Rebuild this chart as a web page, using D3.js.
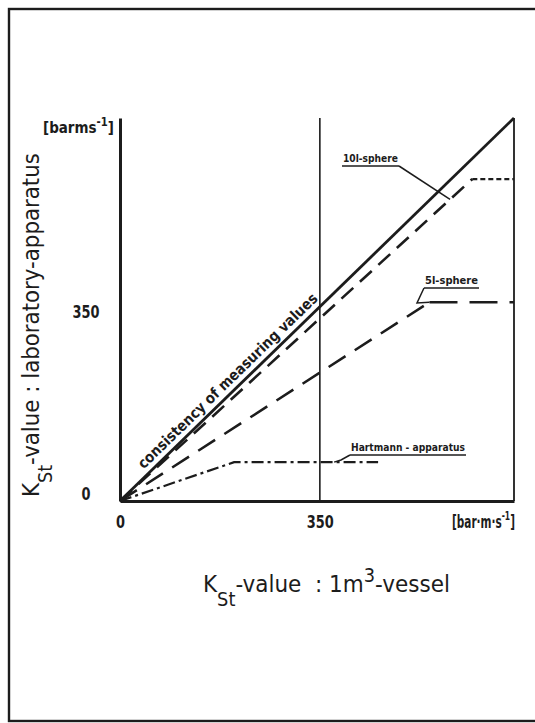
<!DOCTYPE html>
<html>
<head>
<meta charset="utf-8">
<script src="https://cdn.jsdelivr.net/npm/d3@7"></script>
<style>
  html, body { margin: 0; padding: 0; background: #fff; }
  svg { display: block; }
  text {
    font-family: "DejaVu Sans Condensed", "Liberation Sans Narrow", "DejaVu Sans", sans-serif;
    font-stretch: condensed;
    fill: #1c1c1c;
  }
</style>
</head>
<body>
<svg id="chart" width="535" height="723"></svg>
<script>
// K_St values in bar·m·s^-1: 1 m3 vessel (x) against laboratory apparatus (y)
const axisMax = 690;
const tickValues = [0, 350];
const tickLabels = ["0", "350"];

const consistency = [[0, 0], [690, 690]];
const sphere10Rise = [[0, 0], [617, 580]];
const sphere10Plateau = [[617, 580], [690, 580]];
const sphere5Rise = [[0, 0], [542, 358]];
const sphere5Plateau = [[542, 358], [690, 358]];
const hartmann = [[0, 0], [200, 70], [452, 70]];

const ink = "#1c1c1c";
const svg = d3.select("#chart");

// page frame
svg.append("rect")
  .attr("x", 9).attr("y", 9).attr("width", 540).attr("height", 712)
  .attr("fill", "none").attr("stroke", ink).attr("stroke-width", 2.4);

const x = d3.scaleLinear().domain([0, axisMax]).range([120, 514]);
const y = d3.scaleLinear().domain([0, axisMax]).range([501, 118]);

// axes
const xAxis = svg.append("g")
  .attr("transform", `translate(0,${y(0)})`)
  .call(d3.axisBottom(x).tickValues(tickValues).tickFormat((d, i) => tickLabels[i]).tickSize(0).tickSizeOuter(0));
xAxis.select(".domain").attr("stroke", ink).attr("stroke-width", 3);
xAxis.selectAll(".tick text")
  .attr("y", 27).attr("dy", null)
  .attr("font-size", 17).attr("font-weight", "bold")
  .attr("font-family", null).attr("fill", ink)
  .attr("textLength", d => d === 0 ? 9 : 27).attr("lengthAdjust", "spacingAndGlyphs");

const yAxis = svg.append("g")
  .attr("transform", `translate(${x(0)},0)`)
  .call(d3.axisLeft(y).tickValues(tickValues).tickFormat((d, i) => tickLabels[i]).tickSize(0).tickSizeOuter(0));
yAxis.select(".domain").attr("stroke", ink).attr("stroke-width", 3);
yAxis.selectAll(".tick text")
  .attr("x", -34).attr("text-anchor", "middle")
  .attr("dy", d => d === 0 ? "-0.1em" : "0.62em")
  .attr("font-size", 17).attr("font-weight", "bold")
  .attr("font-family", null).attr("fill", ink)
  .attr("textLength", d => d === 0 ? 9 : 27).attr("lengthAdjust", "spacingAndGlyphs");

// right boundary and 350 reference line
svg.append("line")
  .attr("x1", x(axisMax)).attr("x2", x(axisMax)).attr("y1", y(0)).attr("y2", y(axisMax))
  .attr("stroke", ink).attr("stroke-width", 1.8);
svg.append("line")
  .attr("x1", x(350)).attr("x2", x(350)).attr("y1", y(0)).attr("y2", y(axisMax))
  .attr("stroke", ink).attr("stroke-width", 1.6);

const line = d3.line().x(d => x(d[0])).y(d => y(d[1]));
function draw(data, width, dash) {
  svg.append("path")
    .attr("d", line(data))
    .attr("fill", "none")
    .attr("stroke", ink)
    .attr("stroke-width", width)
    .attr("stroke-dasharray", dash)
    .attr("stroke-linejoin", "round");
}

draw(consistency, 2.8, null);
draw(sphere10Rise, 2.6, "16,9");
draw(sphere10Plateau, 2.2, "5,3");
draw(sphere5Rise, 2.6, "20,11");
draw(sphere5Plateau, 2.6, "28,12");
draw(hartmann, 2.2, "12,4,3,4");

// label along the consistency line
const angle = Math.atan2(y(axisMax) - y(0), x(axisMax) - x(0)) * 180 / Math.PI;
svg.append("text")
  .attr("transform", `translate(${x(202)},${y(202)}) rotate(${angle})`)
  .attr("dy", -6)
  .attr("text-anchor", "middle")
  .attr("font-size", 15)
  .attr("font-weight", "bold")
  .attr("textLength", 244)
  .attr("lengthAdjust", "spacingAndGlyphs")
  .text("consistency of measuring values");

// series labels with underline and leader
function tag(label, tx, ty, len, size, leader) {
  svg.append("text")
    .attr("x", tx).attr("y", ty)
    .attr("font-size", size).attr("font-weight", "bold")
    .attr("textLength", len).attr("lengthAdjust", "spacingAndGlyphs")
    .text(label);
  svg.append("line")
    .attr("x1", tx - 1).attr("x2", tx + len + 1)
    .attr("y1", ty + 4).attr("y2", ty + 4)
    .attr("stroke", ink).attr("stroke-width", 1.6);
  svg.append("path")
    .attr("d", d3.line()(leader))
    .attr("fill", "none").attr("stroke", ink).attr("stroke-width", 1.5);
}

const p10 = [x(578), y(578 * 580 / 617)];
tag("10l-sphere", 343, 162, 55, 11, [[399, 166], p10]);
tag("5l-sphere", 425, 284, 53, 11, [[424, 288], [417, 303], [x(542), y(358)]]);
tag("Hartmann - apparatus", 351, 451, 114, 10, [[350, 455], [341, 460], [x(375), y(70)]]);

// rich text (sub/superscripts) squeezed horizontally to a target width
function richText(parent, parts, opts) {
  const g = parent.append("g").attr("transform", opts.transform);
  const t = g.append("text")
    .attr("font-size", opts.size)
    .attr("font-weight", opts.weight || "normal");
  let shift = 0;
  parts.forEach(p => {
    const off = p.sub ? opts.subDrop : p.sup ? -opts.supRise : 0;
    const ts = t.append("tspan").attr("dy", off - shift).text(p.s);
    if (p.sub || p.sup) ts.attr("font-size", opts.small);
    shift = off;
  });
  const w = t.node().getComputedTextLength();
  const sx = opts.width / w;
  const x0 = opts.anchor === "middle" ? -opts.width / 2 : 0;
  t.attr("transform", `translate(${x0},0) scale(${sx},1)`);
  return t;
}

// axis titles
richText(svg, [
  { s: "K" }, { s: "St", sub: true }, { s: "-value : laboratory-apparatus" }
], { transform: "translate(39,325) rotate(-90)", size: 23, small: 19, subDrop: 13, supRise: 10, width: 344, anchor: "middle" });

richText(svg, [
  { s: "K" }, { s: "St", sub: true }, { s: "-value\u00a0 : 1m" }, { s: "3", sup: true }, { s: "-vessel" }
], { transform: "translate(203,592)", size: 23, small: 19, subDrop: 14, supRise: 10, width: 247 });

// units
richText(svg, [
  { s: "[barms" }, { s: "-1", sup: true }, { s: "]" }
], { transform: "translate(43,133)", size: 16, small: 12, weight: "bold", subDrop: 0, supRise: 7, width: 71 });

richText(svg, [
  { s: "[bar·m·s" }, { s: "-1", sup: true }, { s: "]" }
], { transform: "translate(452,528)", size: 18, small: 13, weight: "bold", subDrop: 0, supRise: 8, width: 63 });
</script>
</body>
</html>
